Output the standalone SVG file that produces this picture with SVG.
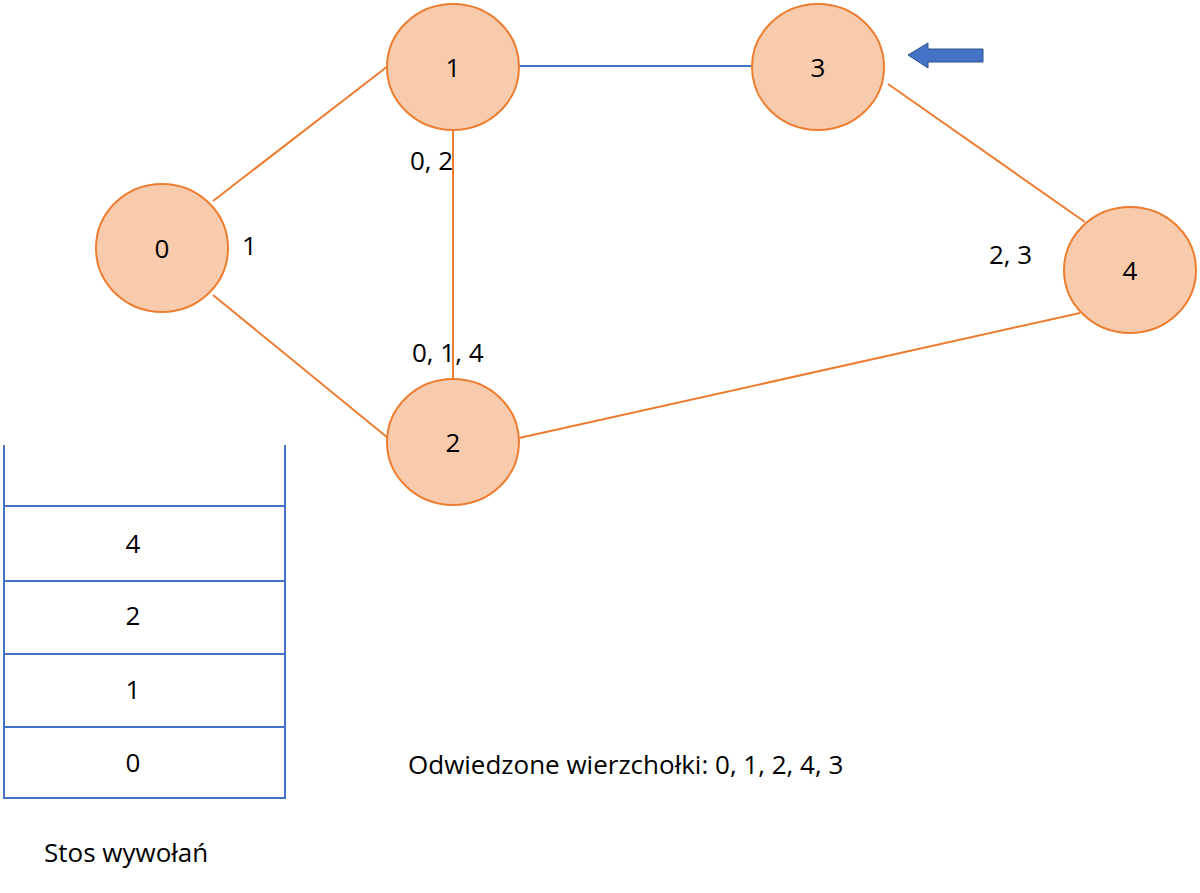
<svg xmlns="http://www.w3.org/2000/svg" width="1200" height="893" viewBox="0 0 1200 893">
<style>
.n{fill:#f8cbad;stroke:#ed7d31;stroke-width:2}
.e{stroke:#ed7d31;stroke-width:2;fill:none}
.b{stroke:#4472c4;stroke-width:2;fill:none}
text{font-family:"Open Sans","Noto Sans",sans-serif;font-size:26px;fill:#000}
.c{text-anchor:middle}
</style>
<rect width="1200" height="893" fill="#fff"/>
<g id="connectors">
<line class="e" x1="213" y1="201" x2="388" y2="66"/>
<line class="b" x1="519" y1="66" x2="752" y2="66"/>
<line class="e" x1="453" y1="130" x2="453" y2="378"/>
<line class="e" x1="213" y1="295" x2="388" y2="438"/>
<line class="e" x1="888" y1="84" x2="1085" y2="222"/>
<line class="e" x1="519" y1="438" x2="1080" y2="313"/>
</g>
<g id="node0"><ellipse class="n" cx="162" cy="248" rx="66" ry="64"/><text class="c" x="162" y="258">0</text></g>
<g id="node1"><ellipse class="n" cx="453" cy="67" rx="66" ry="63"/><text class="c" x="453" y="77">1</text></g>
<g id="node3"><ellipse class="n" cx="818" cy="67" rx="66" ry="63"/><text class="c" x="818" y="77">3</text></g>
<g id="node4"><ellipse class="n" cx="1130" cy="270" rx="66" ry="63"/><text class="c" x="1130" y="280">4</text></g>
<g id="node2"><ellipse class="n" cx="453" cy="442" rx="66" ry="63"/><text class="c" x="453" y="452">2</text></g>
<g id="labels">
<text x="242" y="255">1</text>
<text x="410" y="170">0, 2</text>
<text x="412" y="362">0, 1, 4</text>
<text x="989" y="264">2, 3</text>
</g>
<g id="pointer"><polygon points="908,55 928,43 928,49 983,49 983,62 928,62 928,68" fill="#4472c4" stroke="#2f528f" stroke-width="1"/></g>
<g id="stack">
<g class="b">
<line x1="4" y1="445" x2="4" y2="799"/>
<line x1="285" y1="445" x2="285" y2="799"/>
<line x1="4" y1="506" x2="285" y2="506"/>
<line x1="4" y1="581" x2="285" y2="581"/>
<line x1="4" y1="654" x2="285" y2="654"/>
<line x1="4" y1="727" x2="285" y2="727"/>
<line x1="4" y1="798" x2="285" y2="798"/>
</g>
<text class="c" x="133" y="553">4</text>
<text class="c" x="133" y="625">2</text>
<text class="c" x="133" y="699">1</text>
<text class="c" x="133" y="772">0</text>
</g>
<text x="44" y="862">Stos wywołań</text>
<text x="408" y="774">Odwiedzone wierzchołki: 0, 1, 2, 4, 3</text>
</svg>
